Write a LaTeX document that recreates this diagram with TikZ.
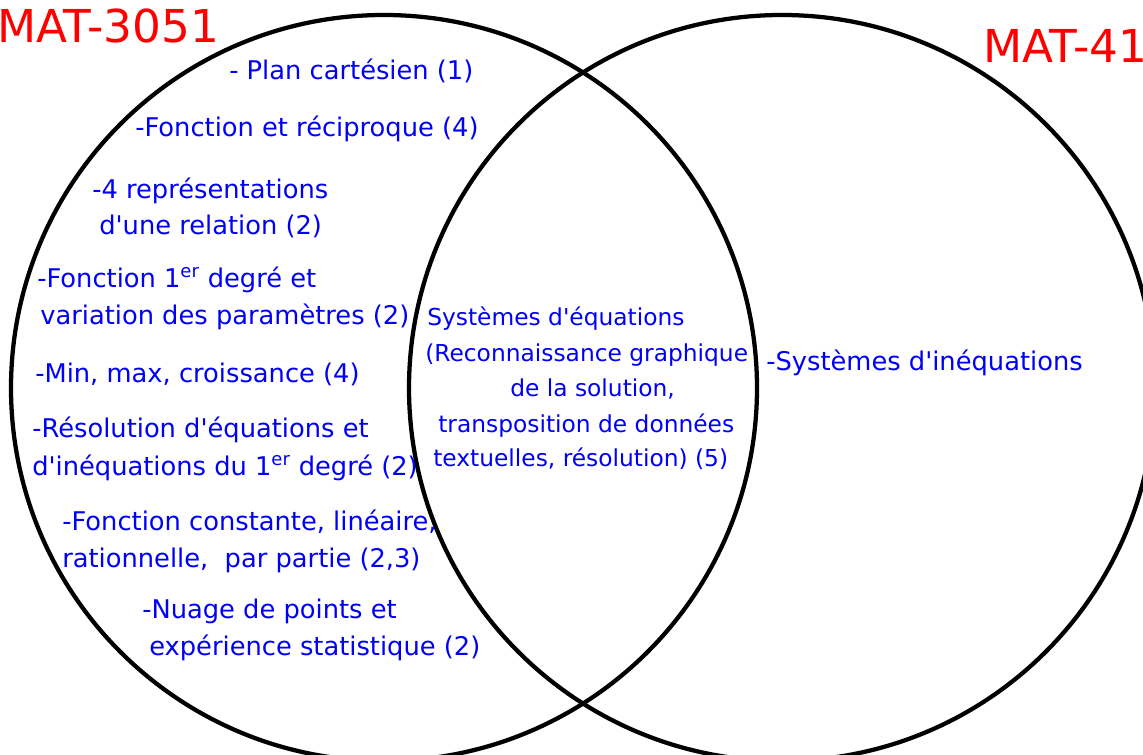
\documentclass[tikz,border=0pt]{standalone}
\usepackage{fontspec}
\setmainfont{DejaVu Sans}[Ligatures=TeXOff]
\definecolor{itemblue}{RGB}{0,0,245}
\definecolor{titlered}{RGB}{255,0,0}
\begin{document}
\begin{tikzpicture}[x=0.75pt,y=-0.75pt,
  item/.style={anchor=base west, inner sep=0pt, text=itemblue,
    font=\fontsize{19.3}{22}\selectfont},
  shared/.style={item, font=\fontsize{17.5}{20}\selectfont},
  title/.style={anchor=base west, inner sep=0pt, text=titlered,
    font=\fontsize{34}{40}\selectfont},
  ring/.style={line width=3.2pt, draw=black}]
\useasboundingbox (0,0) rectangle (1143,755);
\clip (0,0) rectangle (1143,755);

% the two overlapping sets
\draw[ring] (384,388) circle [radius=279.75pt];
\draw[ring] (782,388) circle [radius=279.75pt];

% set titles
\node[title] (tA) at (-3,43) {MAT-3051};
\node[title] (tB) at (983,63) {MAT-41};

% MAT-3051 only
\node[item] (a1)  at (229,80)  {- Plan cartésien (1)};
\node[item] (a2)  at (135,137) {-Fonction et réciproque (4)};
\node[item] (a3)  at (92,199)  {-4 représentations};
\node[item] (a3b) at (99,235)  {d'une relation (2)};
\node[item] (a4)  at (37,288)  {-Fonction 1\textsuperscript{er} degré et};
\node[item] (a4b) at (40,325)  {variation des paramètres (2)};
\node[item] (a5)  at (35,383)  {-Min, max, croissance (4)};
\node[item] (a6)  at (32,438)  {-Résolution d'équations et};
\node[item] (a6b) at (32,476)  {d'inéquations du 1\textsuperscript{er} degré (2)};
\node[item] (a7)  at (62,531)  {-Fonction constante, linéaire,};
\node[item] (a7b) at (62,567)  {rationnelle,\ \ par partie (2,3)};
\node[item] (a8)  at (142,618) {-Nuage de points et};
\node[item] (a8b) at (149,655) {expérience statistique (2)};

% shared region
\node[shared] (c1) at (427,326) {Systèmes d'équations};
\node[shared] (c2) at (425,362) {(Reconnaissance graphique};
\node[shared] (c3) at (510,397) {de la solution,};
\node[shared] (c4) at (438,433) {transposition de données};
\node[shared] (c5) at (433,467) {textuelles, résolution) (5)};

% MAT-4151 only
\node[item] (b1) at (766,371) {-Systèmes d'inéquations};
\end{tikzpicture}
\end{document}
